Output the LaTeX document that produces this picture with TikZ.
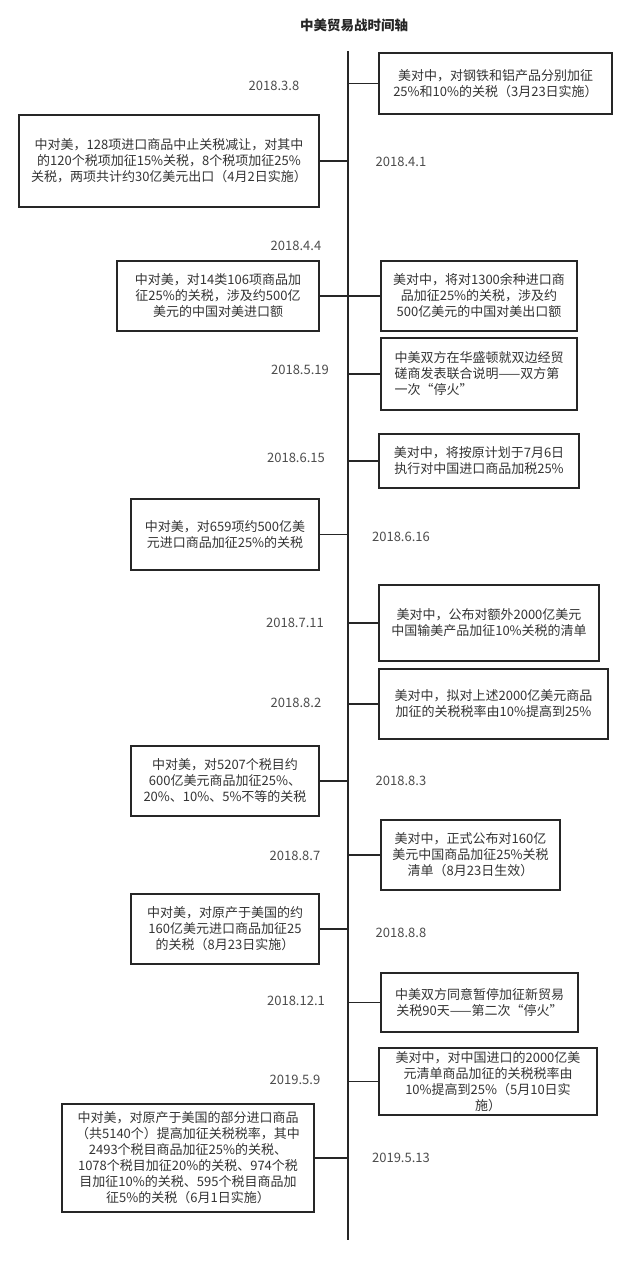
\documentclass[tikz,border=0pt]{standalone}
\usepackage{fontspec}
\setmainfont{Noto Sans CJK SC}
\usepackage{tikz}

\begin{document}
\begin{tikzpicture}[x=1pt,y=-1pt,
    evt/.style={draw=black!85,line width=1.5pt,align=center,inner sep=0pt,
        text=black!80,font=\fontsize{13}{16}\selectfont},
    day/.style={text=black!70,font=\fontsize{13}{16}\selectfont},
    lnk/.style={draw=black!85,line width=1.5pt}]
\useasboundingbox (0,0) rectangle (643,1271);
%%   kw   (name)   (x, y)   {text}
    \node[font=\fontsize{13.5}{16}\selectfont\bfseries,text=black!85] (title) at (354,25) {中美贸易战时间轴};
    \coordinate (top) at (348,51);
    \coordinate (bot) at (348,1240);
    \draw[lnk] (top) -- (bot);

    \node[evt,minimum width=233pt,minimum height=61pt] (e0308) at (495.5,83.5) {美对中，对钢铁和铝产品分别加征\\25\%和10\%的关税（3月23日实施）};
    \node[evt,minimum width=300pt,minimum height=92pt] (e0401) at (169,161) {中对美，128项进口商品中止关税减让，对其中\\的120个税项加征15\%关税，8个税项加征25\%\\关税，两项共计约30亿美元出口（4月2日实施）};
    \node[evt,minimum width=202pt,minimum height=70pt] (e0404a) at (218,296) {中对美，对14类106项商品加\\征25\%的关税，涉及约500亿\\美元的中国对美进口额};
    \node[evt,minimum width=196pt,minimum height=70pt] (e0404b) at (479,296) {美对中，将对1300余种进口商\\品加征25\%的关税，涉及约\\500亿美元的中国对美出口额};
    \node[evt,align=left,minimum width=196pt,minimum height=72pt] (e0519) at (479,374) {中美双方在华盛顿就双边经贸\\磋商发表联合说明——双方第\\一次“停火”};
    \node[evt,minimum width=200pt,minimum height=54pt] (e0615) at (479,461) {美对中，将按原计划于7月6日\\执行对中国进口商品加税25\%};
    \node[evt,minimum width=188pt,minimum height=71pt] (e0616) at (225,534.5) {中对美，对659项约500亿美\\元进口商品加征25\%的关税};
    \node[evt,minimum width=220pt,minimum height=76pt] (e0711) at (489,623) {美对中，公布对额外2000亿美元\\中国输美产品加征10\%关税的清单};
    \node[evt,minimum width=229pt,minimum height=70pt] (e0802) at (493.5,704) {美对中，拟对上述2000亿美元商品\\加征的关税税率由10\%提高到25\%};
    \node[evt,minimum width=188pt,minimum height=70pt] (e0803) at (225,781) {中对美，对5207个税目约\\600亿美元商品加征25\%、\\20\%、10\%、5\%不等的关税};
    \node[evt,minimum width=179pt,minimum height=70pt] (e0807) at (470.5,855) {美对中，正式公布对160亿\\美元中国商品加征25\%关税\\清单（8月23日生效）};
    \node[evt,minimum width=188pt,minimum height=70pt] (e0808) at (225,929) {中对美，对原产于美国的约\\160亿美元进口商品加征25\\的关税（8月23日实施）};
    \node[evt,minimum width=197pt,minimum height=59pt] (e1201) at (479.5,1002.5) {中美双方同意暂停加征新贸易\\关税90天——第二次“停火”};
    \node[evt,minimum width=218pt,minimum height=67pt] (e0509) at (488,1081.5) {美对中，对中国进口的2000亿美\\元清单商品加征的关税税率由\\10\%提高到25\%（5月10日实\\施）};
    \node[evt,minimum width=252pt,minimum height=108pt] (e0513) at (188,1158) {中对美，对原产于美国的部分进口商品\\（共5140个）提高加征关税税率，其中\\2493个税目商品加征25\%的关税、\\1078个税目加征20\%的关税、974个税\\目加征10\%的关税、595个税目商品加\\征5\%的关税（6月1日实施）};

    \node[day] (d0308) at (274,86) {2018.3.8};
    \node[day] (d0401) at (401,162) {2018.4.1};
    \node[day] (d0404) at (296,246) {2018.4.4};
    \node[day] (d0519) at (300,370) {2018.5.19};
    \node[day] (d0615) at (296,458) {2018.6.15};
    \node[day] (d0616) at (401,537) {2018.6.16};
    \node[day] (d0711) at (295,623) {2018.7.11};
    \node[day] (d0802) at (296,703) {2018.8.2};
    \node[day] (d0803) at (401,781) {2018.8.3};
    \node[day] (d0807) at (295,856) {2018.8.7};
    \node[day] (d0808) at (401,933) {2018.8.8};
    \node[day] (d1201) at (296,1001) {2018.12.1};
    \node[day] (d0509) at (295,1080) {2019.5.9};
    \node[day] (d0513) at (401,1158) {2019.5.13};

    \draw[lnk] (e0308.west) -- (e0308.west -| top);
    \draw[lnk] (e0401.east) -- (e0401.east -| top);
    \draw[lnk] (e0404a.east) -- (e0404b.west);
    \draw[lnk] (e0519.west) -- (e0519.west -| top);
    \draw[lnk] (e0615.west) -- (e0615.west -| top);
    \draw[lnk] (e0616.east) -- (e0616.east -| top);
    \draw[lnk] (e0711.west) -- (e0711.west -| top);
    \draw[lnk] (e0802.west) -- (e0802.west -| top);
    \draw[lnk] (e0803.east) -- (e0803.east -| top);
    \draw[lnk] (e0807.west) -- (e0807.west -| top);
    \draw[lnk] (e0808.east) -- (e0808.east -| top);
    \draw[lnk] (e1201.west) -- (e1201.west -| top);
    \draw[lnk] (e0509.west) -- (e0509.west -| top);
    \draw[lnk] (e0513.east) -- (e0513.east -| top);
\end{tikzpicture}
\end{document}
